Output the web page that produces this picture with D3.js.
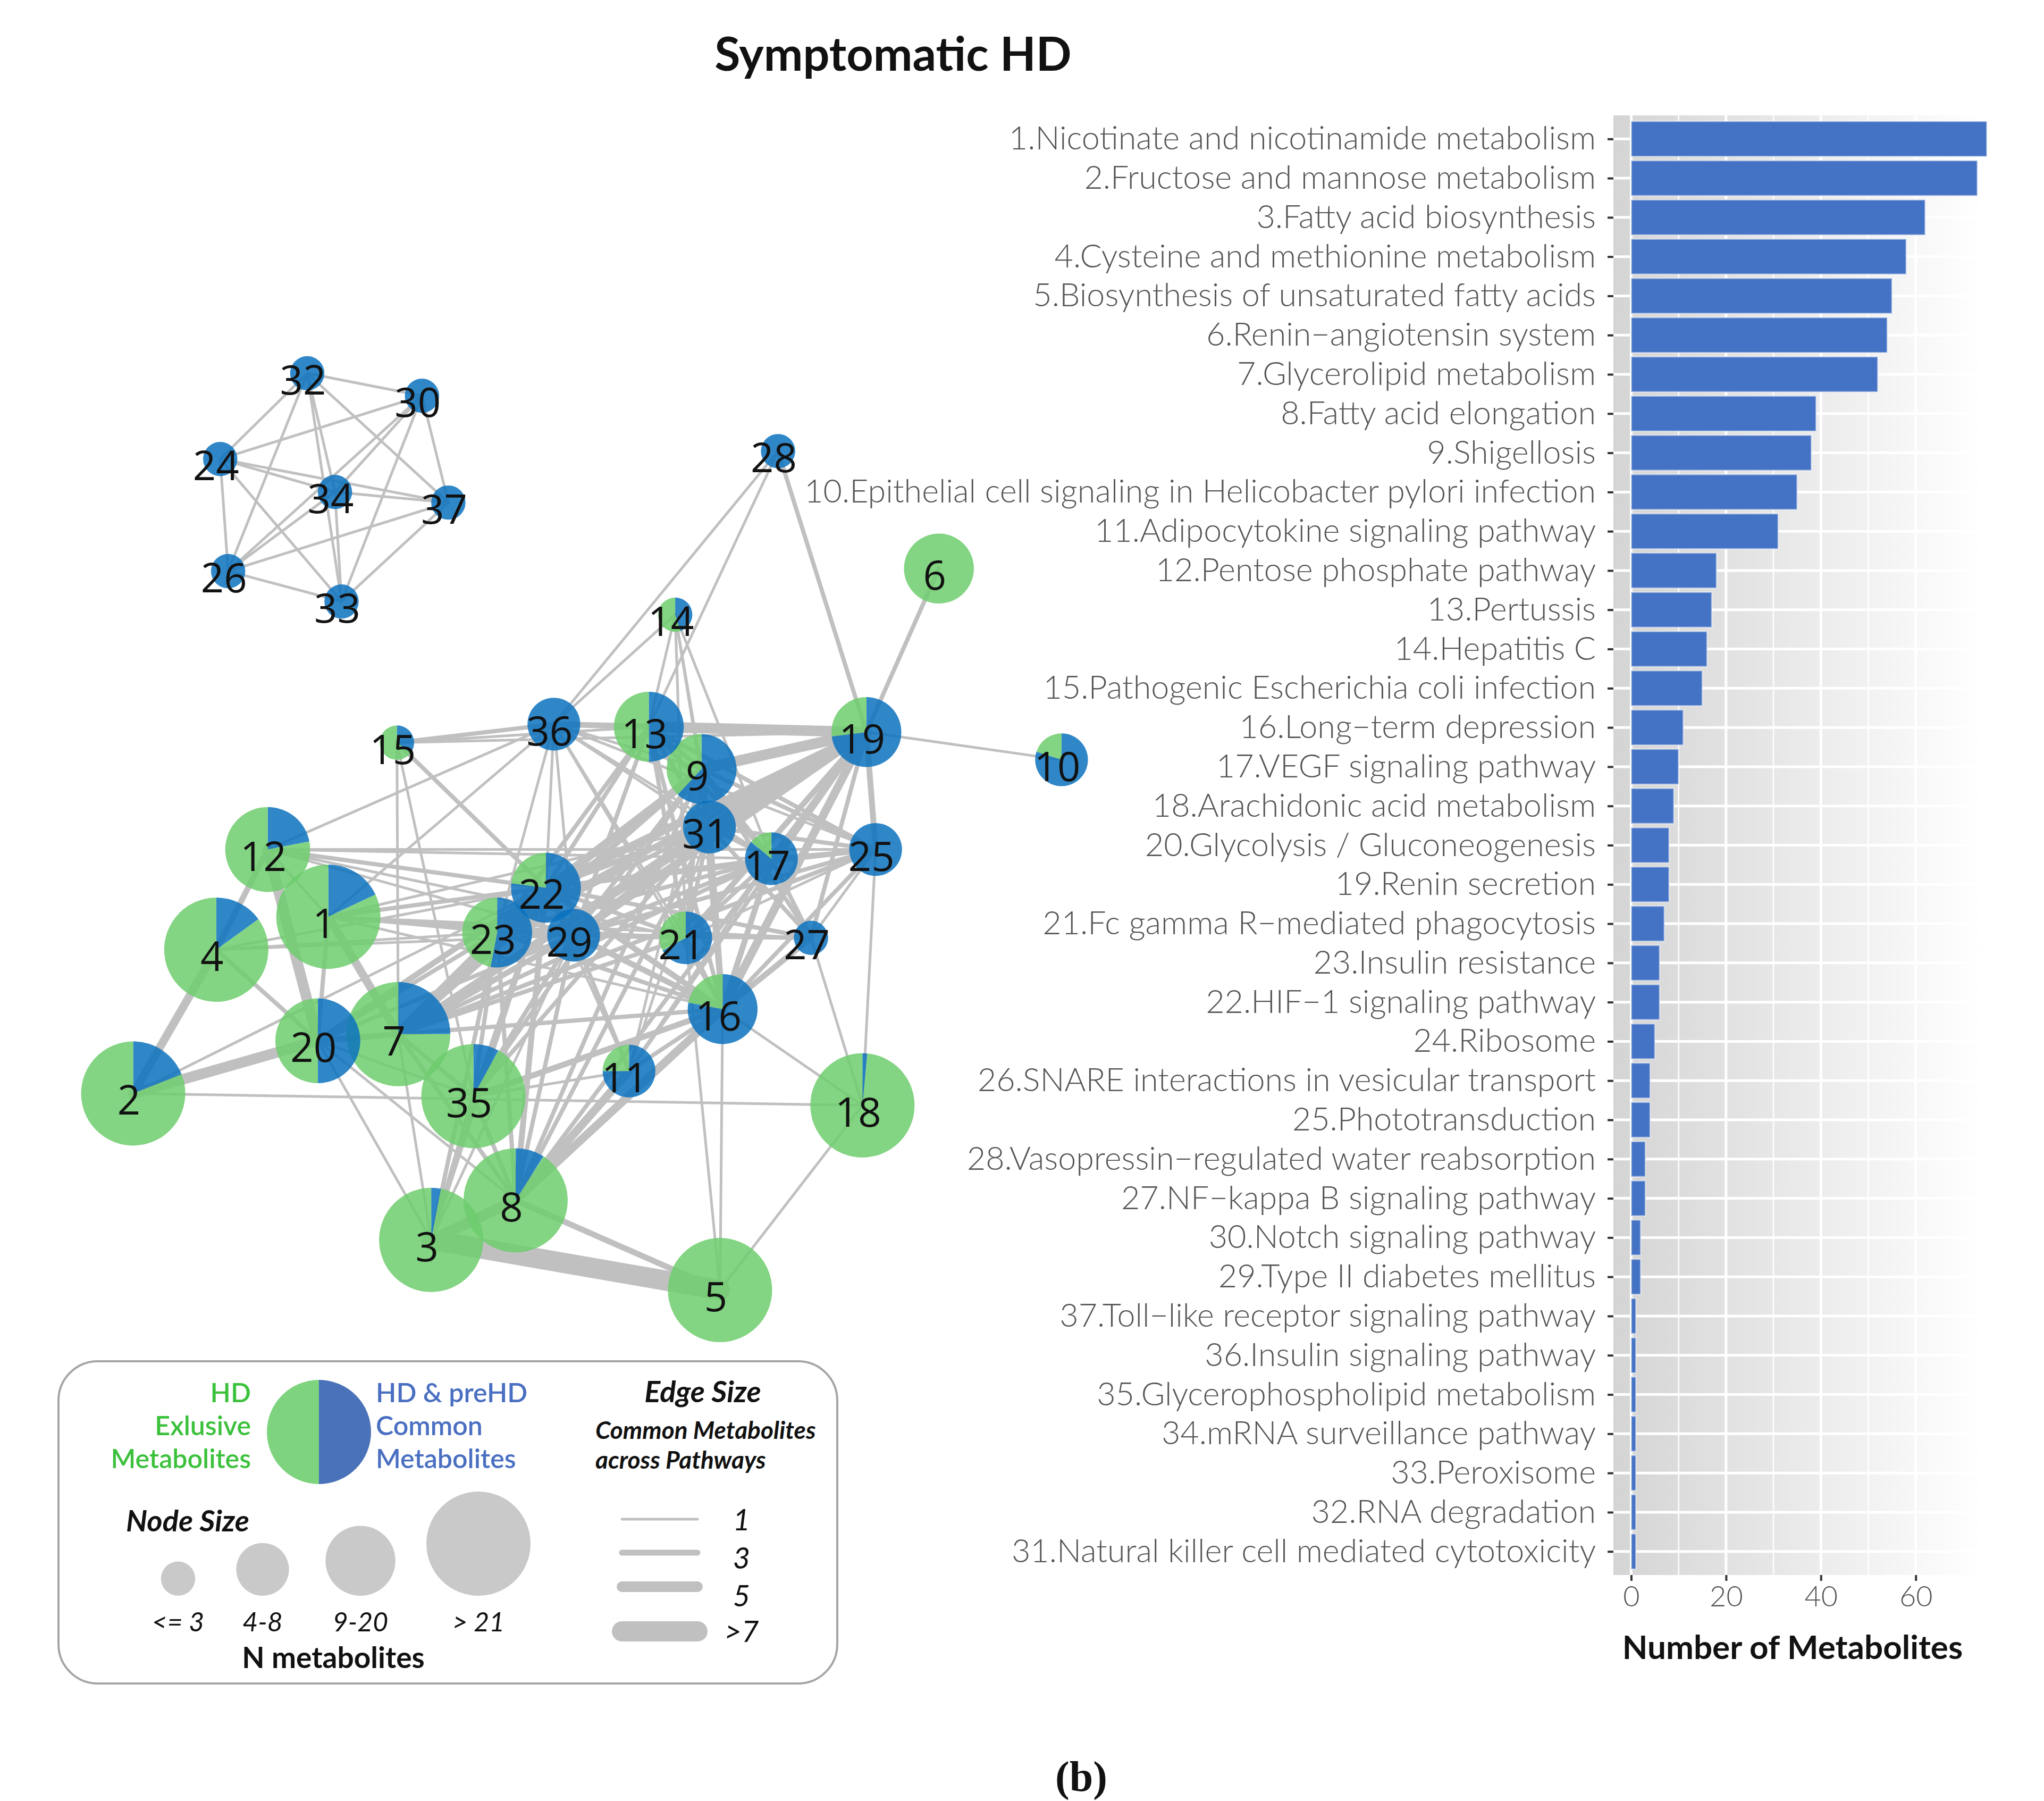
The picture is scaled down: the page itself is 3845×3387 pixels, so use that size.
<!DOCTYPE html>
<html><head><meta charset="utf-8">
<script src="https://cdn.jsdelivr.net/npm/d3@7"></script>
<style>html,body{margin:0;padding:0;background:#fff}</style>
</head><body>
<svg id="c" width="3845" height="3387" xmlns="http://www.w3.org/2000/svg"></svg>
<script>
// ---------------- DATA ----------------
const pathways = [
"1.Nicotinate and nicotinamide metabolism","2.Fructose and mannose metabolism","3.Fatty acid biosynthesis",
"4.Cysteine and methionine metabolism","5.Biosynthesis of unsaturated fatty acids","6.Renin\u2212angiotensin system",
"7.Glycerolipid metabolism","8.Fatty acid elongation","9.Shigellosis",
"10.Epithelial cell signaling in Helicobacter pylori infection","11.Adipocytokine signaling pathway","12.Pentose phosphate pathway",
"13.Pertussis","14.Hepatitis C","15.Pathogenic Escherichia coli infection","16.Long\u2212term depression",
"17.VEGF signaling pathway","18.Arachidonic acid metabolism","20.Glycolysis / Gluconeogenesis","19.Renin secretion",
"21.Fc gamma R\u2212mediated phagocytosis","23.Insulin resistance","22.HIF\u22121 signaling pathway","24.Ribosome",
"26.SNARE interactions in vesicular transport","25.Phototransduction","28.Vasopressin\u2212regulated water reabsorption",
"27.NF\u2212kappa B signaling pathway","30.Notch signaling pathway","29.Type II diabetes mellitus",
"37.Toll\u2212like receptor signaling pathway","36.Insulin signaling pathway","35.Glycerophospholipid metabolism",
"34.mRNA surveillance pathway","33.Peroxisome","32.RNA degradation","31.Natural killer cell mediated cytotoxicity"];
const metabolites = [75,73,62,58,55,54,52,39,38,35,31,18,17,16,15,11,10,9,8,8,7,6,6,5,4,4,3,3,2,2,1,1,1,1,1,1,1];
const xTicks = [0,20,40,60];

// network nodes (layout coordinates)
const nodeIds = [1,2,3,4,5,6,7,8,9,10,11,12,13,14,15,16,17,18,19,20,21,22,23,24,25,26,27,28,29,30,31,32,33,34,35,36,37];
const nodeLX  = [249,101,327,164,546,712,302,391,532,805,477,203,492,512,301,548,585,654,657,241,520,414,377,167,664,173,615,590,435,320,538,233,259,254,359,420,340];
const nodeLY  = [695,829,940,720,978,431,784,910,583,576,812,644,551,466,563,765,651,838,555,789,711,673,707,348,644,433,711,342,709,300,627,283,456,373,831,549,381];
const nodeN   = [30,30,30,30,30,14,30,30,14,6,6,21,14,2,2,14,6,30,14,21,6,14,14,2,6,2,2,2,6,2,6,2,2,2,30,6,2];
const nodeCommon = [0.18,0.19,0.03,0.15,0,0,0.25,0.09,0.62,0.8,0.75,0.22,0.5,0.45,0.35,0.78,0.86,0.015,0.73,0.5,0.67,0.77,0.53,1,1,1,1,1,1,1,1,1,1,1,0.08,1,1];

// edges: [source, target, common metabolites]
const edges = [
[32,30,1],[32,24,1],[32,34,1],[32,33,1],[32,37,1],[32,26,1],[30,24,1],[30,34,1],[30,37,1],[30,26,1],[30,33,1],
[24,34,1],[24,37,1],[24,26,1],[24,33,1],[34,37,1],[34,26,1],[34,33,1],[37,26,1],[37,33,1],[26,33,1],
[3,5,8],[2,20,5],[2,4,4],[12,20,5],[1,7,4],[1,20,2],[12,4,3],[4,20,2],[3,8,5],[8,5,3],[8,11,4],[8,16,4],
[7,22,5],[7,29,3],[7,31,3],[7,9,3],[7,19,3],[13,19,5],[36,19,3],[9,19,5],[31,19,4],[22,19,4],[29,19,4],
[23,19,3],[21,19,3],[16,19,4],[17,19,3],[25,19,3],[27,19,2],[28,19,2],[6,19,2],[10,19,1],[15,19,1],[11,19,2],[8,19,2],
[16,27,3],[16,17,3],[16,9,3],[16,31,3],[16,22,3],[16,29,3],[16,23,2],[16,35,3],[16,7,2],[16,21,2],[16,11,2],[16,25,2],[16,18,1],[16,5,1],
[22,9,3],[22,31,3],[22,17,2],[22,21,2],[22,29,2],[22,23,2],[22,13,2],[22,25,2],[22,27,2],
[29,9,2],[29,31,2],[29,17,2],[29,21,2],[29,27,2],[29,25,2],[29,13,2],[29,11,2],[29,35,2],
[23,9,2],[23,31,2],[23,17,2],[23,21,2],[23,13,2],
[35,22,2],[35,29,2],[35,23,2],[35,31,2],[35,9,2],
[8,22,3],[8,29,2],[8,23,2],[8,31,2],[8,9,2],
[3,22,2],[3,23,2],[3,29,1],[3,20,1],[3,7,1],
[20,35,1],[20,8,1],[20,22,3],[20,29,2],[20,23,2],[20,7,3],
[2,18,1],[2,22,1],[4,22,1],[4,23,1],[4,29,1],
[1,22,2],[1,23,1],[1,29,2],[1,21,1],[1,17,1],[1,31,1],[1,16,1],[1,27,1],[1,12,1],
[12,22,2],[12,29,1],[12,21,1],[12,17,1],[12,25,1],[12,36,1],
[15,36,2],[15,13,1],[15,22,2],[15,7,1],[15,35,1],
[36,22,1],[36,29,1],[36,23,1],[36,21,1],[36,17,1],[36,16,1],[36,25,1],[36,9,1],[36,31,1],[36,1,1],
[14,36,1],[14,13,1],[14,9,1],[14,31,1],[14,17,1],[14,21,1],[28,36,1],[28,13,1],
[13,9,2],[13,31,2],[13,17,2],[13,21,2],[13,16,2],[13,25,2],[13,36,2],
[9,31,2],[9,17,2],[9,25,2],[9,27,2],[9,21,2],
[31,17,2],[31,25,2],[31,27,2],[31,21,2],[17,25,2],[17,27,2],[17,21,2],
[25,27,1],[25,21,1],[25,18,1],[27,18,1],[21,5,1],[18,5,1],
[11,22,1],[11,31,1],[11,9,1],[11,35,1],[11,17,1],
[35,7,2],[35,8,2],[35,3,2],[7,8,2],[7,23,2],[7,17,2],[7,21,2],[7,25,2]];

// legend data
const sizeLegendN = [2,6,14,30];
const sizeLegendLabels = ["<= 3","4-8","9-20","> 21"];
const edgeLegendW = [1,3,5,8];
const edgeLegendLabels = ["1","3","5",">7"];

// ---------------- DRAW ----------------
const svg = d3.select("#c");
const GREEN = "#6dcd6d", BLUE = "#0c72be";
const TXT = "Lato, 'Open Sans', sans-serif";

// title
svg.append("text").attr("x",1680).attr("y",133).attr("text-anchor","middle")
  .style("font-family",TXT).style("font-weight",700).style("font-size","88px").attr("fill","#111")
  .text("Symptomatic HD");

// ===== bar chart =====
const defs = svg.append("defs");
const grad = defs.append("linearGradient").attr("id","pg").attr("x1","0").attr("x2","1").attr("y1","0").attr("y2","0");
grad.append("stop").attr("offset","0").attr("stop-color","#d4d4d4");
grad.append("stop").attr("offset","0.95").attr("stop-color","#ffffff");

const x = d3.scaleLinear().domain([-3.75,78.75]).range([3035,3771]);
const y = d3.scalePoint().domain(pathways).range([217,2962]).padding(0.6);
const step = y.step();
const gb = svg.append("g");
gb.append("rect").attr("x",x(-3.75)).attr("y",217).attr("width",x(78.75)-x(-3.75)).attr("height",2962-217).attr("fill","url(#pg)");
gb.selectAll("line.mn").data([10,30,50,70]).join("line")
  .attr("x1",d=>x(d)).attr("x2",d=>x(d)).attr("y1",217).attr("y2",2962)
  .attr("stroke","#fff").attr("stroke-width",2.5);
gb.selectAll("line.mj").data(xTicks).join("line")
  .attr("x1",d=>x(d)).attr("x2",d=>x(d)).attr("y1",217).attr("y2",2962)
  .attr("stroke","#fff").attr("stroke-width",5);
gb.selectAll("line.hz").data(pathways).join("line")
  .attr("x1",x(-3.75)).attr("x2",x(78.75)).attr("y1",d=>y(d)).attr("y2",d=>y(d))
  .attr("stroke","#fff").attr("stroke-width",5);
gb.selectAll("rect.bar").data(pathways).join("rect")
  .attr("x",x(0)).attr("y",d=>y(d)-step*0.45).attr("height",step*0.9)
  .attr("width",(d,i)=>x(metabolites[i])-x(0))
  .attr("fill","#4472c4").attr("stroke","#fff").attr("stroke-opacity",0.45).attr("stroke-width",3);

const ya = svg.append("g").attr("transform",`translate(${x(-3.75)},0)`)
  .call(d3.axisLeft(y).tickSize(11).tickPadding(22));
ya.select(".domain").remove();
ya.selectAll(".tick line").attr("stroke","#333").attr("stroke-width",4);
ya.selectAll(".tick text").style("font-family",TXT).style("font-weight",300).style("font-size","61px").attr("fill","#555");

const xa = svg.append("g").attr("transform","translate(0,2962)")
  .call(d3.axisBottom(x).tickValues(xTicks).tickSize(11).tickPadding(10));
xa.select(".domain").remove();
xa.selectAll(".tick line").attr("stroke","#333").attr("stroke-width",4);
xa.selectAll(".tick text").style("font-family",TXT).style("font-weight",300).style("font-size","54px").attr("fill","#555");

svg.append("text").attr("x",3372).attr("y",3120).attr("text-anchor","middle")
  .style("font-family",TXT).style("font-weight",700).style("font-size","62px").attr("fill","#111")
  .text("Number of Metabolites");

// ===== network =====
const k = 3845/1550;
const nx = d3.scaleLinear().domain([0,1550]).range([0,1550*k]);
const ny = d3.scaleLinear().domain([0,1366]).range([0,1366*k]);
const rScale = d3.scaleLinear().domain([2,6,14,30]).range([13*k,20*k,26.5*k,39.5*k]).clamp(true);
const wScale = d3.scaleLinear().domain([1,3,5,8]).range([5,11,20,38]);
const idx = id => nodeIds.indexOf(id);

const ge = svg.append("g");
ge.selectAll("line").data(edges).join("line")
  .attr("x1",d=>nx(nodeLX[idx(d[0])])).attr("y1",d=>ny(nodeLY[idx(d[0])]))
  .attr("x2",d=>nx(nodeLX[idx(d[1])])).attr("y2",d=>ny(nodeLY[idx(d[1])]))
  .attr("stroke","#c0c0c0").attr("stroke-width",d=>wScale(d[2])).attr("stroke-linecap","round");

const pie = d3.pie().sort(null).value(d=>d);
const gn = svg.append("g");
nodeIds.forEach((id,i)=>{
  const g = gn.append("g").attr("transform",`translate(${nx(nodeLX[i])},${ny(nodeLY[i])})`);
  const r = rScale(nodeN[i]);
  const arc = d3.arc().innerRadius(0).outerRadius(r);
  g.selectAll("path").data(pie([nodeCommon[i],1-nodeCommon[i]])).join("path")
    .attr("d",arc).attr("fill",(d,j)=>j===0?BLUE:GREEN).attr("fill-opacity",0.85);
});
const gl = svg.append("g");
nodeIds.forEach((id,i)=>{
  gl.append("text").attr("x",nx(nodeLX[i])-8).attr("y",ny(nodeLY[i])+40)
    .attr("text-anchor","middle").style("font-family","'Open Sans', sans-serif").style("font-size","76px")
    .attr("fill","#111").text(id);
});

// ===== legend =====
const lg = svg.append("g");
lg.append("rect").attr("x",110).attr("y",2560).attr("width",1465).attr("height",606).attr("rx",74).attr("ry",74)
  .attr("fill","none").attr("stroke","#a5a5a5").attr("stroke-width",4);
["HD","Exlusive","Metabolites"].forEach((t,i)=>{
  lg.append("text").attr("x",472).attr("y",2637+i*62).attr("text-anchor","end")
    .style("font-family",TXT).style("font-weight",600).style("font-size","50px").attr("fill","#3cc13c").text(t);
});
["HD & preHD","Common","Metabolites"].forEach((t,i)=>{
  lg.append("text").attr("x",707).attr("y",2637+i*62).attr("text-anchor","start")
    .style("font-family",TXT).style("font-weight",600).style("font-size","50px").attr("fill","#4a6fc1").text(t);
});
const lpArc = d3.arc().innerRadius(0).outerRadius(98);
lg.append("g").attr("transform","translate(600,2693)").selectAll("path").data(pie([0.5,0.5])).join("path")
  .attr("d",lpArc).attr("fill",(d,j)=>j===0?"#4a72b8":"#7ed37e");

lg.append("text").attr("x",1322).attr("y",2637).attr("text-anchor","middle")
  .style("font-family",TXT).style("font-weight",700).style("font-style","italic").style("font-size","56px").attr("fill","#111").text("Edge Size");
lg.append("text").attr("x",1120).attr("y",2706)
  .style("font-family",TXT).style("font-weight",700).style("font-style","italic").style("font-size","46px").attr("fill","#111").text("Common Metabolites");
lg.append("text").attr("x",1120).attr("y",2762)
  .style("font-family",TXT).style("font-weight",700).style("font-style","italic").style("font-size","46px").attr("fill","#111").text("across Pathways");
lg.append("text").attr("x",237).attr("y",2880)
  .style("font-family",TXT).style("font-weight",700).style("font-style","italic").style("font-size","56px").attr("fill","#111").text("Node Size");

const sizeX = [335,494,678,900];
sizeLegendN.forEach((n,i)=>{
  const r = rScale(n);
  lg.append("circle").attr("cx",sizeX[i]).attr("cy",3001-r).attr("r",r).attr("fill","#c9c9c9");
  lg.append("text").attr("x",sizeX[i]).attr("y",3068).attr("text-anchor","middle")
    .style("font-family",TXT).style("font-style","italic").style("font-size","50px").attr("fill","#111").text(sizeLegendLabels[i]);
});
lg.append("text").attr("x",627).attr("y",3137).attr("text-anchor","middle")
  .style("font-family",TXT).style("font-weight",700).style("font-size","55px").attr("fill","#111").text("N metabolites");

const edgeY = [2857,2920,2984,3068];
const edgeLabY = [2878,2950,3021,3088];
edgeLegendW.forEach((w,i)=>{
  lg.append("line").attr("x1",1170).attr("x2",1312).attr("y1",edgeY[i]).attr("y2",edgeY[i])
    .attr("stroke","#c0c0c0").attr("stroke-width",wScale(w)).attr("stroke-linecap","round");
  lg.append("text").attr("x",1395).attr("y",edgeLabY[i]).attr("text-anchor","middle")
    .style("font-family",TXT).style("font-style","italic").style("font-size","56px").attr("fill","#111").text(edgeLegendLabels[i]);
});

// panel tag
svg.append("text").attr("x",2034).attr("y",3368).attr("text-anchor","middle")
  .style("font-family","'Liberation Serif', 'DejaVu Serif', serif").style("font-weight",700).style("font-size","80px")
  .attr("fill","#111").text("(b)");
</script>
</body></html>
